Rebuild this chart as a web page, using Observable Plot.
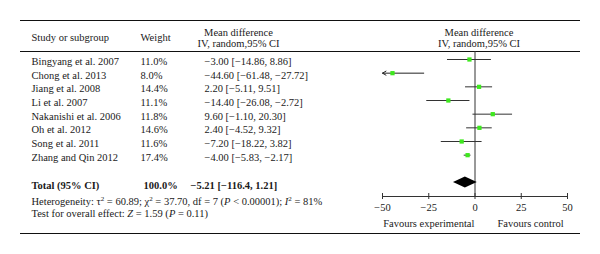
<!DOCTYPE html>
<html><head><meta charset="utf-8">
<script src="https://cdn.jsdelivr.net/npm/d3@7"></script>
<script src="https://cdn.jsdelivr.net/npm/@observablehq/plot@0.6"></script>
<style>body{margin:0;background:#fff}</style>
</head><body><div id="chart"></div>
<script>
const studies = ["Bingyang et al. 2007", "Chong et al. 2013", "Jiang et al. 2008", "Li et al. 2007",
  "Nakanishi et al. 2006", "Oh et al. 2012", "Song et al. 2011", "Zhang and Qin 2012"];
const weights = [11.0, 8.0, 14.4, 11.1, 11.8, 14.6, 11.6, 17.4];
const meanDiff = [-3.00, -44.60, 2.20, -14.40, 9.60, 2.40, -7.20, -4.00];
const ciLow = [-14.86, -61.48, -5.11, -26.08, -1.10, -4.52, -18.22, -5.83];
const ciHigh = [8.86, -27.72, 9.51, -2.72, 20.30, 9.32, 3.82, -2.17];
const totalLabel = "Total (95% CI)";
const totalWeight = 100.0;
const totalMean = -5.21;
const totalLow = -11.64;
const totalHigh = 1.21;
const totalCILabel = "−5.21 [−116.4, 1.21]";
const heterogeneityText = "Heterogeneity: τ² = 60.89; χ² = 37.70, df = 7 (P < 0.00001); I² = 81%";
const overallText = "Test for overall effect: Z = 1.59 (P = 0.11)";
const xDomain = [-50, 50];
const xTicks = [-50, -25, 0, 25, 50];
const favourLabels = ["Favours experimental", "Favours control"];
const favourPositions = [-25, 30];

const fmt = v => (v < 0 ? "−" : "") + Math.abs(v).toFixed(2);
const rows = studies.map((s, i) => ({
  i, study: s, weight: weights[i].toFixed(1) + "%",
  md: meanDiff[i], lo: ciLow[i], hi: ciHigh[i],
  clipLo: Math.max(ciLow[i], xDomain[0]), clipped: ciLow[i] < xDomain[0],
  ci: `${fmt(meanDiff[i])} [${fmt(ciLow[i])}, ${fmt(ciHigh[i])}]`
}));
const totalRow = studies.length + 1;
const diamond = [
  {x: totalLow, y1: totalRow, y2: totalRow},
  {x: totalMean, y1: totalRow - 0.4, y2: totalRow + 0.4},
  {x: totalHigh, y1: totalRow, y2: totalRow}
];
const favours = favourLabels.map((t, k) => ({t, x: favourPositions[k]}));

const L = 382;
const font = "'Liberation Serif', 'DejaVu Serif', serif";
const fs = 10.5;
const ink = "#1a1a1a";

function tableRules(index, scales, values, dims) {
  const g = d3.create("svg:g").attr("stroke", "#111").attr("stroke-width", 1);
  const x1 = 20, x2 = dims.width - 20;
  [dims.marginTop - 31, dims.marginTop, dims.height - 21].forEach(y =>
    g.append("line").attr("x1", x1).attr("x2", x2).attr("y1", y + 0.5).attr("y2", y + 0.5));
  return g.node();
}

const txt = (data, o) => Plot.text(data, {lineAnchor: "middle", fill: ink, fontSize: fs, ...o});

const chart = Plot.plot({
  width: 600, height: 254,
  marginLeft: L, marginRight: 33, marginTop: 51, marginBottom: 58,
  style: {fontFamily: font, fontSize: fs + "px", color: ink, background: "#fff"},
  x: {domain: xDomain, axis: null},
  y: {domain: [0, totalRow], range: [59, 182], axis: null},
  marks: [
    tableRules,
    Plot.ruleX([0], {stroke: "#333"}),
    Plot.ruleY(rows.filter(d => !d.clipped), {y: "i", x1: "lo", x2: "hi", stroke: "#333"}),
    Plot.arrow(rows.filter(d => d.clipped), {y1: "i", y2: "i", x1: "hi", x2: "clipLo", stroke: "#222", headLength: 6, strokeWidth: 1}),
    Plot.dot(rows, {x: "md", y: "i", symbol: "square", r: 2.4, fill: "#3ee81e"}),
    Plot.areaY(diamond, {x: "x", y1: "y1", y2: "y2", fill: "#000"}),
    Plot.frame({anchor: "bottom", stroke: "#333"}),
    Plot.axisX({ticks: xTicks, tickSize: 6, dy: -3, fill: "none", stroke: "#333"}),
    Plot.axisX({ticks: xTicks, tickSize: 0, tickPadding: 7, stroke: "none", fontSize: fs, fill: ink}),
    txt(favours, {x: "x", text: "t", frameAnchor: "bottom", dy: 27, textAnchor: "middle"}),
    // headers
    txt(["Study or subgroup"], {frameAnchor: "top-left", dx: 31 - L, dy: -14, textAnchor: "start"}),
    txt(["Weight"], {frameAnchor: "top-left", dx: 140 - L, dy: -14, textAnchor: "start"}),
    txt(["Mean difference"], {frameAnchor: "top-left", dx: 238 - L, dy: -19, textAnchor: "middle"}),
    txt(["IV, random,95% CI"], {frameAnchor: "top-left", dx: 238 - L, dy: -8, textAnchor: "middle"}),
    txt(["Mean difference"], {frameAnchor: "top", dx: 4, dy: -19, textAnchor: "middle"}),
    txt(["IV, random,95% CI"], {frameAnchor: "top", dx: 4, dy: -8, textAnchor: "middle"}),
    // rows
    txt(rows, {y: "i", text: "study", frameAnchor: "left", dx: 31 - L, dy: 2, textAnchor: "start"}),
    txt(rows, {y: "i", text: "weight", frameAnchor: "left", dx: 140 - L, dy: 2, textAnchor: "start"}),
    txt(rows, {y: "i", text: "ci", frameAnchor: "left", dx: 204 - L, dy: 2, textAnchor: "start"}),
    // total
    txt([totalLabel], {y: [totalRow], frameAnchor: "left", dx: 31 - L, dy: 3, textAnchor: "start", fontWeight: "bold"}),
    txt([totalWeight.toFixed(1) + "%"], {y: [totalRow], frameAnchor: "left", dx: 143 - L, dy: 3, textAnchor: "start", fontWeight: "bold"}),
    txt([totalCILabel], {y: [totalRow], frameAnchor: "left", dx: 190 - L, dy: 3, textAnchor: "start", fontWeight: "bold"}),
    txt([heterogeneityText], {frameAnchor: "bottom-left", dx: 31 - L, dy: 5, textAnchor: "start"}),
    txt([overallText], {frameAnchor: "bottom-left", dx: 31 - L, dy: 17, textAnchor: "start"})
  ]
});
document.getElementById("chart").appendChild(chart);

// italic / superscript styling of statistics text
const sup = s => `<tspan dy="-3.5" font-size="7">${s}</tspan><tspan dy="3.5">`;
d3.select(chart).selectAll("text").each(function () {
  const t = this.textContent;
  if (t === heterogeneityText) {
    this.innerHTML = `Heterogeneity: τ${sup("2")} = 60.89; χ</tspan>${sup("2")} = 37.70, df = 7 (<tspan font-style="italic">P</tspan> &lt; 0.00001); <tspan font-style="italic">I</tspan></tspan>${sup("2")} = 81%</tspan>`;
  } else if (t === overallText) {
    this.innerHTML = `Test for overall effect: <tspan font-style="italic">Z</tspan> = 1.59 (<tspan font-style="italic">P</tspan> = 0.11)`;
  }
});
</script></body></html>
